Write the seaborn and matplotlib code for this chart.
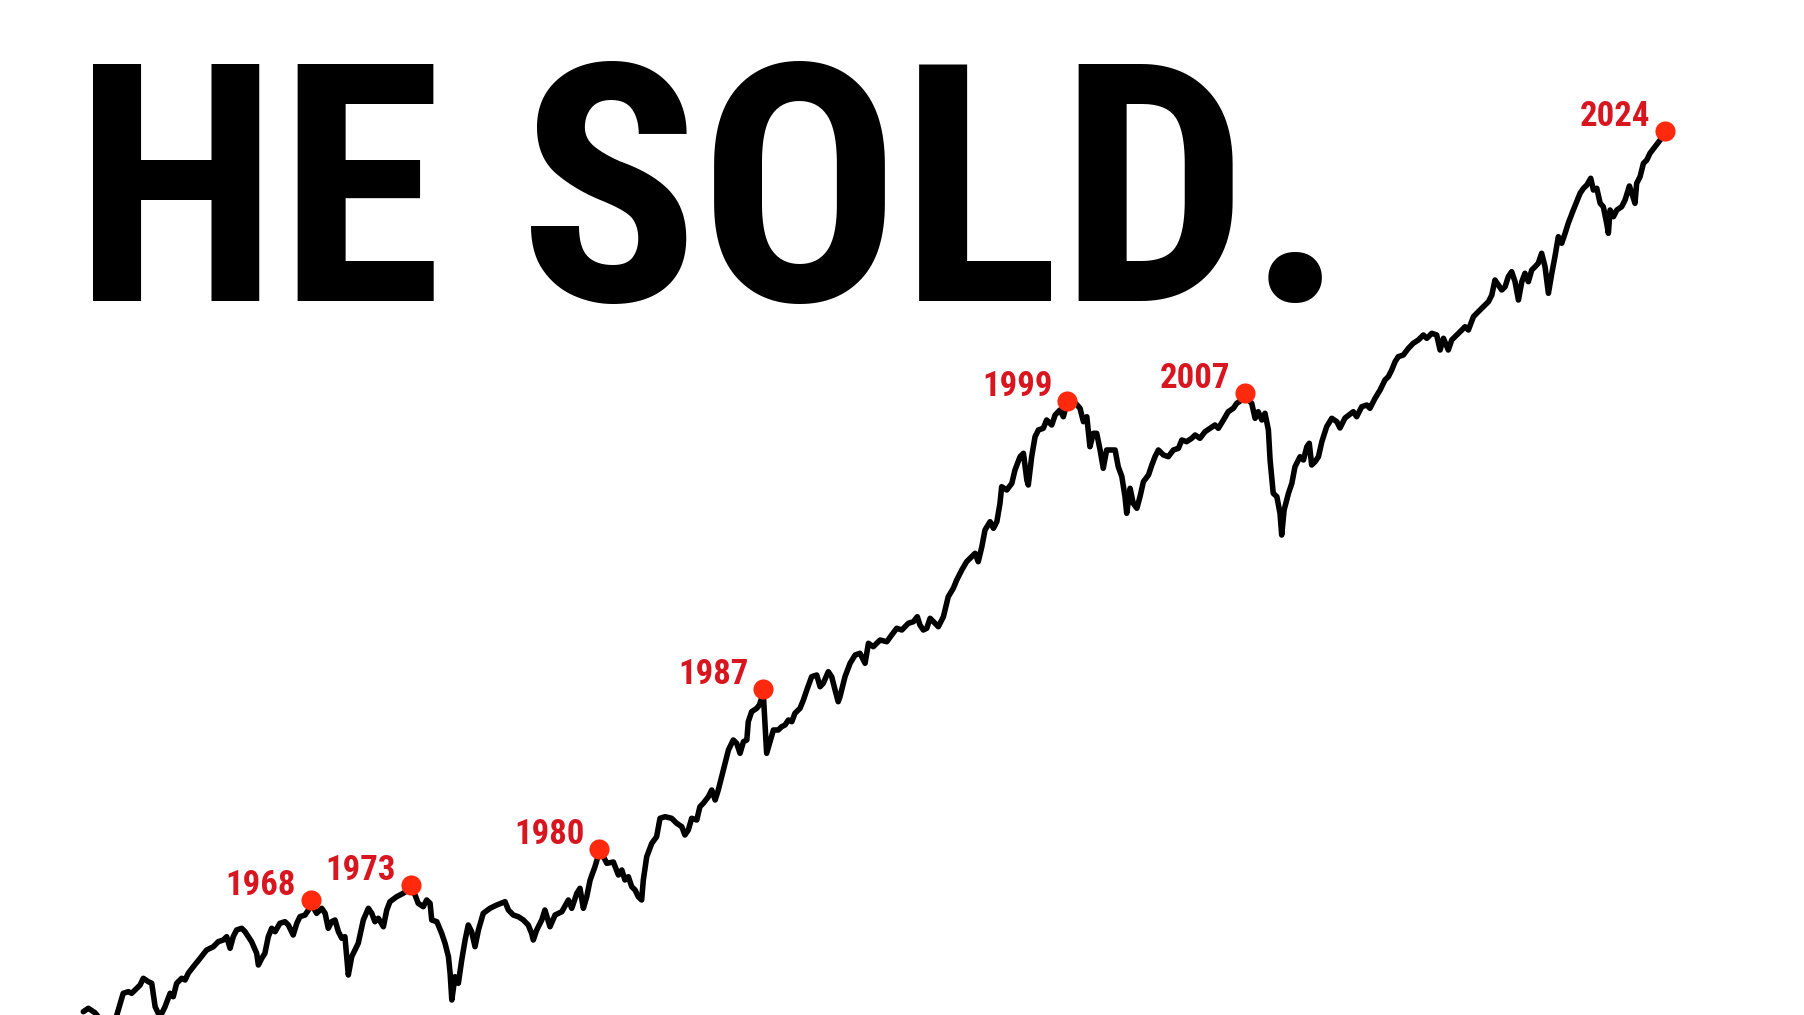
# plot.py - "HE SOLD." market chart with annotated peaks

import matplotlib
matplotlib.use("Agg")
import matplotlib.pyplot as plt
import seaborn as sns
import pandas as pd

# ── Data (level = height of the line, arbitrary units) ──
years = [
    1958.60, 1958.81, 1959.08, 1959.50, 1959.95, 1960.25, 1960.46, 1960.60, 1960.81, 1960.95,
    1961.08, 1961.29, 1961.43, 1961.57, 1961.77, 1961.98, 1962.19, 1962.32, 1962.46, 1962.67,
    1962.81, 1962.94, 1963.15, 1963.43, 1963.70, 1963.98, 1964.18, 1964.39, 1964.53, 1964.67,
    1964.80, 1964.94, 1965.15, 1965.29, 1965.56, 1965.77, 1965.84, 1965.98, 1966.11, 1966.25,
    1966.39, 1966.53, 1966.73, 1966.94, 1967.08, 1967.28, 1967.43, 1967.56, 1967.77, 1967.91,
    1968.00, 1968.25, 1968.46, 1968.60, 1968.73, 1968.87, 1969.01, 1969.15, 1969.29, 1969.42,
    1969.56, 1969.70, 1969.97, 1970.18, 1970.39, 1970.53, 1970.66, 1970.80, 1971.01, 1971.15,
    1971.28, 1971.56, 1971.83, 1972.14, 1972.32, 1972.45, 1972.66, 1972.80, 1972.94, 1973.01,
    1973.22, 1973.42, 1973.56, 1973.70, 1973.77, 1973.84, 1973.97, 1974.11, 1974.25, 1974.39,
    1974.52, 1974.66, 1974.80, 1974.94, 1975.14, 1975.42, 1975.70, 1976.04, 1976.18, 1976.38,
    1976.59, 1976.80, 1977.00, 1977.14, 1977.21, 1977.35, 1977.56, 1977.69, 1977.90, 1978.11,
    1978.39, 1978.66, 1978.80, 1979.01, 1979.14, 1979.28, 1979.42, 1979.56, 1979.76, 1979.94,
    1980.11, 1980.25, 1980.52, 1980.73, 1980.87, 1981.00, 1981.14, 1981.28, 1981.42, 1981.55,
    1981.69, 1981.76, 1981.90, 1982.11, 1982.31, 1982.45, 1982.66, 1982.93, 1983.14, 1983.35,
    1983.48, 1983.62, 1983.76, 1983.97, 1984.10, 1984.24, 1984.45, 1984.59, 1984.73, 1984.86,
    1985.00, 1985.14, 1985.28, 1985.48, 1985.62, 1985.76, 1985.90, 1986.04, 1986.10, 1986.24,
    1986.45, 1986.56, 1986.72, 1986.86, 1987.00, 1987.14, 1987.34, 1987.48, 1987.62, 1987.76,
    1987.90, 1988.03, 1988.24, 1988.38, 1988.52, 1988.72, 1988.93, 1989.07, 1989.20, 1989.41,
    1989.55, 1989.69, 1989.82, 1989.89, 1990.10, 1990.31, 1990.52, 1990.72, 1990.93, 1991.07,
    1991.27, 1991.55, 1991.83, 1992.03, 1992.24, 1992.45, 1992.72, 1992.93, 1993.09, 1993.20,
    1993.34, 1993.48, 1993.62, 1993.82, 1993.96, 1994.17, 1994.37, 1994.58, 1994.72, 1994.93,
    1995.13, 1995.34, 1995.48, 1995.61, 1995.76, 1995.89, 1996.10, 1996.24, 1996.38, 1996.51,
    1996.58, 1996.79, 1997.00, 1997.13, 1997.34, 1997.48, 1997.62, 1997.68, 1997.82, 1997.96,
    1998.10, 1998.30, 1998.44, 1998.65, 1998.79, 1998.99, 1999.13, 1999.28, 1999.49, 1999.70,
    1999.82, 1999.96, 2000.10, 2000.23, 2000.37, 2000.51, 2000.65, 2000.78, 2000.92, 2001.13,
    2001.27, 2001.40, 2001.55, 2001.68, 2001.75, 2001.89, 2002.02, 2002.17, 2002.30, 2002.44,
    2002.65, 2002.79, 2002.92, 2003.06, 2003.27, 2003.47, 2003.68, 2003.89, 2004.03, 2004.23,
    2004.44, 2004.58, 2004.78, 2004.99, 2005.20, 2005.40, 2005.54, 2005.75, 2005.95, 2006.16,
    2006.30, 2006.51, 2006.64, 2006.78, 2006.92, 2007.06, 2007.19, 2007.34, 2007.47, 2007.61,
    2007.68, 2007.81, 2007.96, 2008.09, 2008.16, 2008.26, 2008.44, 2008.58, 2008.71, 2008.92,
    2009.06, 2009.20, 2009.30, 2009.40, 2009.54, 2009.68, 2009.82, 2010.02, 2010.23, 2010.44,
    2010.57, 2010.78, 2011.12, 2011.26, 2011.47, 2011.68, 2011.81, 2012.02, 2012.23, 2012.43,
    2012.57, 2012.71, 2012.85, 2012.98, 2013.19, 2013.40, 2013.60, 2013.81, 2014.02, 2014.16,
    2014.37, 2014.57, 2014.71, 2014.85, 2015.05, 2015.19, 2015.40, 2015.61, 2015.74, 2015.88,
    2016.09, 2016.29, 2016.50, 2016.71, 2016.85, 2016.98, 2017.12, 2017.26, 2017.40, 2017.53,
    2017.67, 2017.81, 2017.95, 2018.09, 2018.22, 2018.36, 2018.50, 2018.64, 2018.77, 2018.91,
    2019.05, 2019.19, 2019.33, 2019.46, 2019.60, 2019.74, 2019.88, 2020.01, 2020.22, 2020.36,
    2020.50, 2020.64, 2020.78, 2020.94, 2021.05, 2021.19, 2021.33, 2021.46, 2021.60, 2021.67,
    2021.74, 2021.88, 2022.02, 2022.22, 2022.36, 2022.54, 2022.64, 2022.77, 2022.84, 2022.98,
    2023.12, 2023.26, 2023.39, 2023.60, 2023.81, 2024.01,
]
levels = [
    3.3, 6.7, 2.3, -10, -3, 21.7, 23.3, 21.7, 26.7, 30,
    36.7, 33.3, 31.7, 8.3, -2, 8.3, 21.7, 18.3, 31.7, 36.7,
    35, 41.7, 48.3, 56.7, 65, 68.3, 73.3, 75, 78.3, 66.7,
    78.3, 85, 86.7, 83.3, 73.3, 61.7, 50, 56.7, 61.7, 78.3,
    86.7, 83.3, 91.7, 93.3, 90, 80, 91.7, 98.3, 100, 105,
    112, 101.7, 106.7, 101.7, 86.7, 93.3, 95, 83.3, 76.7, 78.3,
    40, 58.3, 71.7, 95, 106.7, 101.7, 93.3, 96.7, 88.3, 105,
    113.3, 118.3, 121.7, 127, 120, 111.7, 108.3, 115, 111.7, 95,
    93.3, 81.7, 71.7, 58.3, 41.7, 15, 38.3, 31.7, 55, 75,
    90, 83.3, 68.3, 85, 101.7, 106.7, 110, 113.3, 105, 100,
    98.3, 95, 90, 81.7, 75, 85, 95, 105, 88.3, 100,
    103.3, 115, 106.7, 121.7, 126.7, 106.7, 118.3, 135, 148.3, 163,
    158.3, 151.7, 153, 140, 145, 135, 138.3, 128.3, 125, 118.3,
    115, 135, 158.3, 171.7, 178.3, 196.7, 198.3, 196.7, 191.7, 188.3,
    180, 185, 196.7, 195, 208.3, 211.7, 218.3, 225, 215, 225,
    238.3, 251.7, 265, 275, 271.7, 261.7, 273.3, 275, 293.3, 303.3,
    306.7, 310, 322, 261.7, 273.3, 285, 285, 288.3, 290, 295,
    293.3, 301.7, 306.7, 315, 325, 338.3, 340, 328.3, 331.7, 343.3,
    338.3, 325, 313.3, 318, 338.3, 351.7, 360, 361.7, 351.7, 371.7,
    368.3, 375, 373.3, 380, 386.7, 385, 391.7, 393.3, 398.3, 390,
    385, 386.7, 396.7, 391.7, 388.3, 398.3, 418.3, 426.7, 435, 445,
    453.3, 458.3, 461.7, 453.3, 468.3, 485, 493.3, 486.7, 493.3, 511.7,
    528.3, 525, 531.7, 545, 558.3, 561.7, 535, 530, 558.3, 578.3,
    585, 586.7, 595, 590, 600, 605, 598.3, 612, 615, 610,
    606.7, 593.3, 598.3, 568.3, 581.7, 581.7, 565, 546.7, 565, 565,
    565, 548.3, 538.3, 518.3, 501.7, 526.7, 511.7, 506.7, 518.3, 533.3,
    540, 550, 558.3, 565, 560, 558.3, 565, 566.7, 575, 573.3,
    576.7, 580, 576.7, 583.3, 586.7, 590, 586.7, 595, 603.3, 606.7,
    611.7, 615, 620, 615, 611.7, 596.7, 603.3, 595, 601.7, 585,
    555, 521.7, 518.3, 501.7, 480, 505, 521.7, 531.7, 548.3, 558.3,
    555, 568.3, 571.7, 550, 553.3, 558.3, 573.3, 588.3, 596.7, 593.3,
    587, 597, 603.3, 598.3, 608.3, 610, 606.7, 616.7, 625, 635,
    638.3, 645, 653.3, 658.3, 660, 666.7, 671.7, 675, 680, 676.7,
    681.7, 680, 665, 676.7, 665, 675, 680, 685, 688.3, 685,
    698.3, 703.3, 708.3, 713.3, 720, 735, 730, 725, 728.3, 738.3,
    743.3, 733.3, 715, 733.3, 741.7, 733.3, 745, 748.3, 751.7, 761.7,
    748.3, 721.7, 741.7, 758.3, 778.3, 771.7, 781.7, 791.7, 805, 813.3,
    821.7, 826.7, 830, 836.7, 825, 826.7, 811.7, 808.3, 791.7, 781.7,
    805, 798.3, 805, 808.3, 815, 829, 821.7, 811.7, 831.7, 838.3,
    851.7, 855, 861.7, 868.3, 875, 882,
]

peak_labels = ["1968", "1973", "1980", "1987", "1999", "2007", "2024"]
peak_years = [1968.00, 1972.14, 1979.94, 1986.72, 1999.28, 2006.64, 2024.01]
peak_levels = [115, 130, 166, 326, 614, 622.3, 884.3]

title = "HE SOLD."

# ── Styling ───────────────────────────────────────────────────────────────────
sns.set_theme(style="white")
plt.rcParams["font.family"] = ["Liberation Sans Narrow", "Roboto Condensed", "DejaVu Sans"]

LINE_COLOR = "black"
DOT_COLOR = "#ff2a0e"
LABEL_COLOR = "#d7161f"

df = pd.DataFrame({"year": years, "level": levels})
peaks = pd.DataFrame({"year": peak_years, "level": peak_levels, "label": peak_labels})

fig = plt.figure(figsize=(18.04, 10.15), dpi=100, facecolor="white")
ax = fig.add_axes([0, 0, 1, 1])

sns.lineplot(
    data=df, x="year", y="level", estimator=None, sort=False,
    color=LINE_COLOR, linewidth=4.0, ax=ax, zorder=2,
)
plt.setp(ax.lines, solid_joinstyle="round", solid_capstyle="round")

sns.scatterplot(
    data=peaks, x="year", y="level", s=210, color=DOT_COLOR,
    linewidth=0, ax=ax, zorder=3,
)

for _, row in peaks.iterrows():
    ax.annotate(
        row["label"], (row["year"], row["level"]),
        xytext=(-10.5, 3.5), textcoords="offset points",
        ha="right", va="baseline", fontsize=25, fontweight="bold",
        color=LABEL_COLOR,
    )

# ── Title ─────────────────────────────────────────────────────────────────────
fig.text(0.041, 0.7034, title, ha="left", va="baseline",
         fontsize=240, fontweight="bold", color="black")

ax.set_xlim(1955.155, 2029.76)
ax.set_ylim(0, 1015)
ax.set_axis_off()

fig.savefig("out.png", dpi=100, facecolor="white")
plt.close(fig)
